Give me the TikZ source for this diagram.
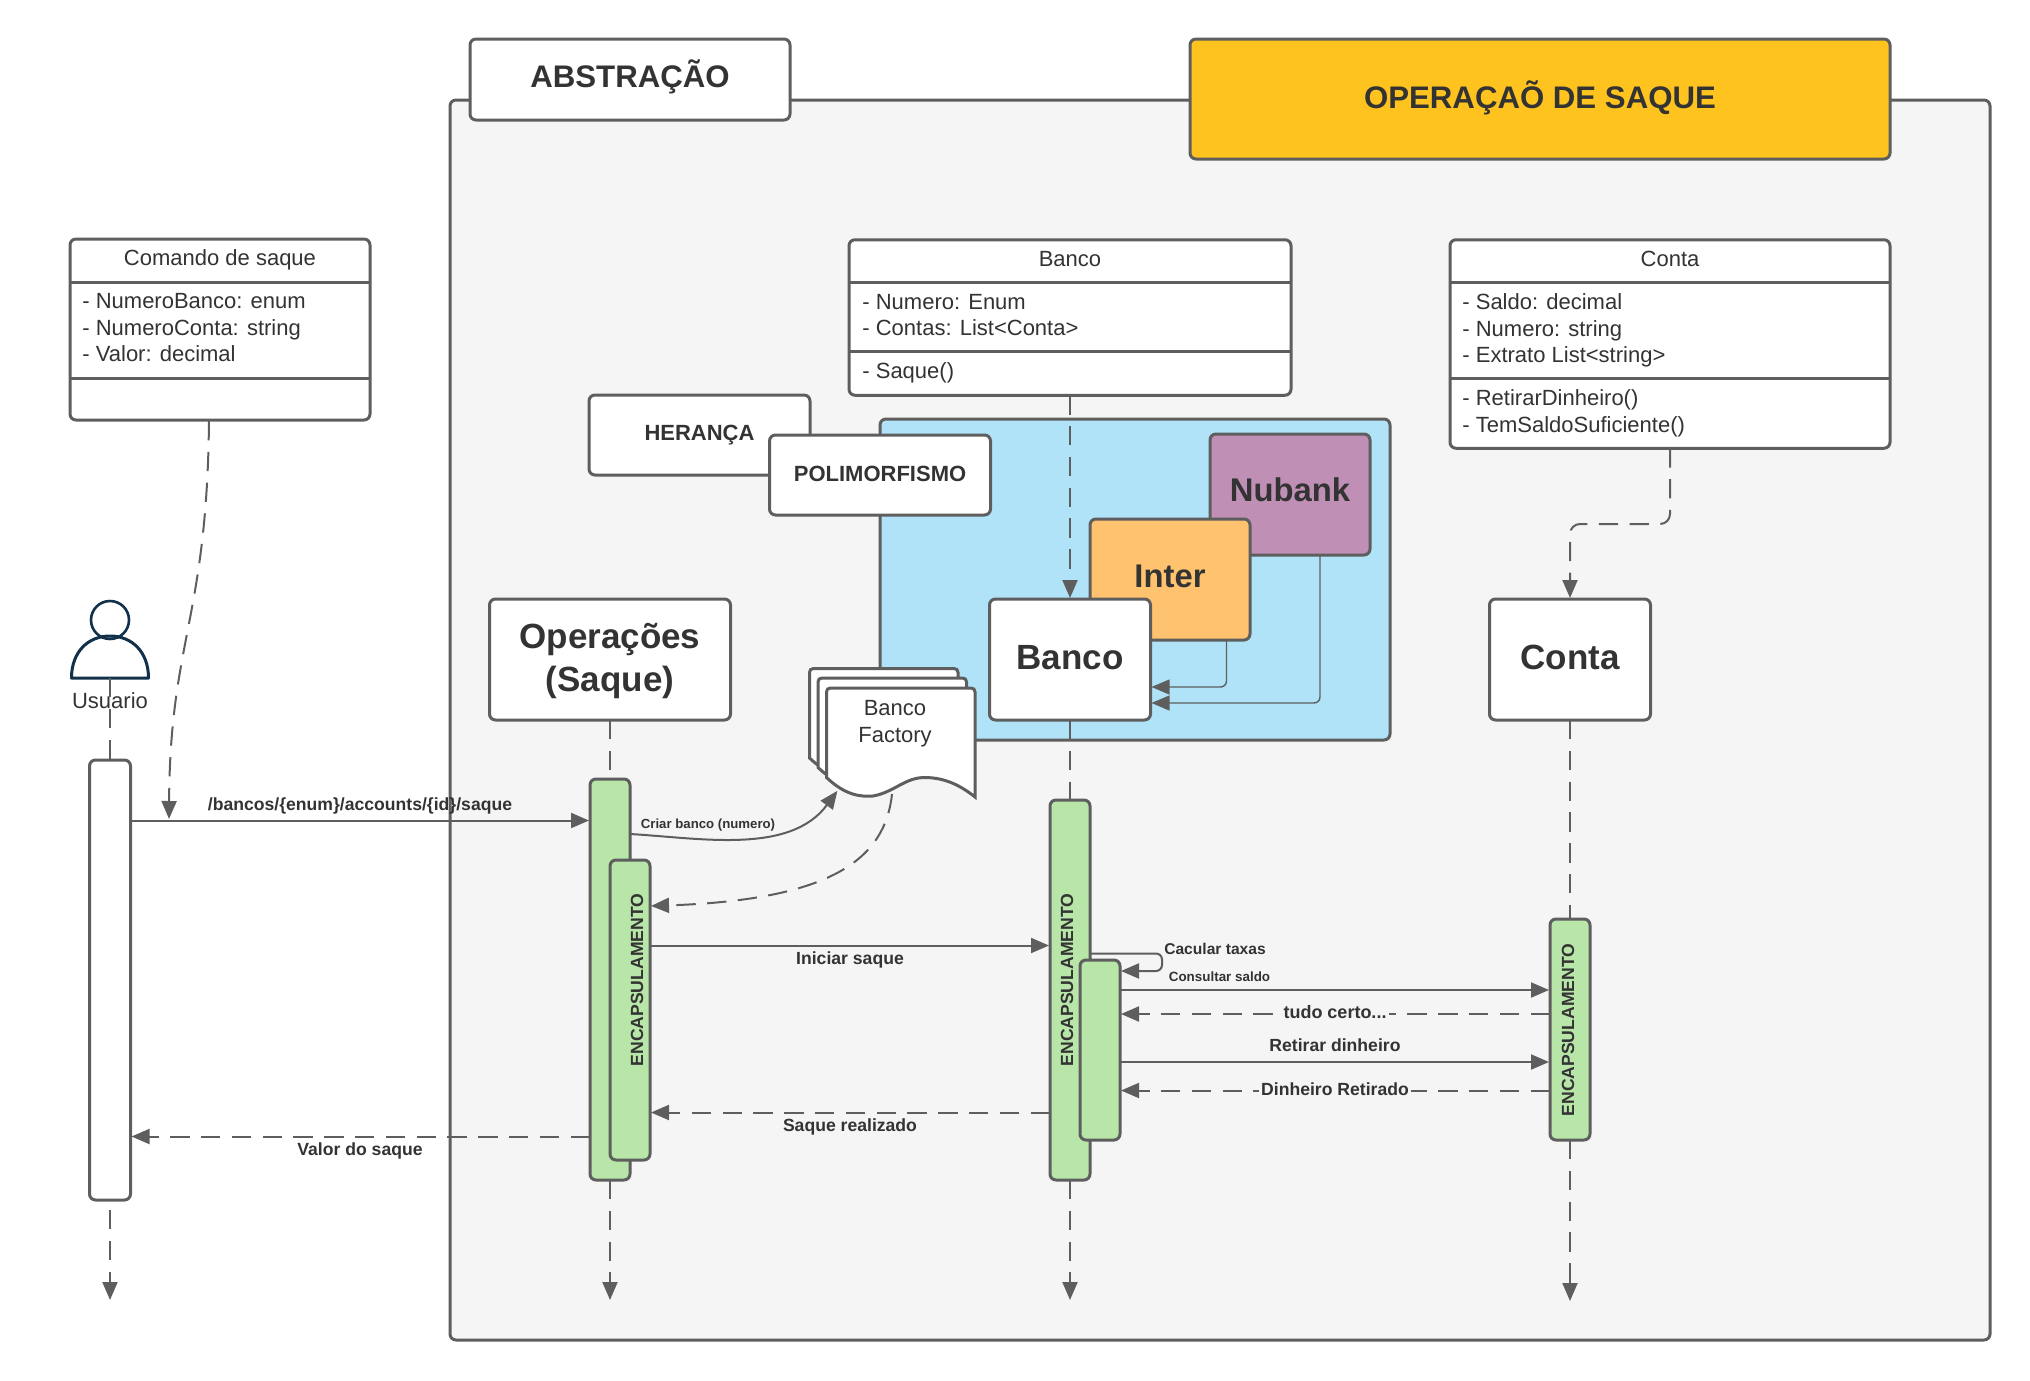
\documentclass[tikz,border=0pt]{standalone}
\usepackage{fontspec}
\setmainfont{Liberation Sans}
\usetikzlibrary{arrows.meta}
\definecolor{linegray}{HTML}{5E5E5E}
\definecolor{txtgray}{HTML}{333333}
\definecolor{framegray}{HTML}{F5F5F5}
\definecolor{actgreen}{HTML}{B8E6A8}
\definecolor{polyblue}{HTML}{B0E3F8}
\definecolor{nubankpurple}{HTML}{BF8FB5}
\definecolor{interorange}{HTML}{FFC26E}
\definecolor{opyellow}{HTML}{FFC31F}
\definecolor{actornavy}{HTML}{12304A}
\tikzset{
  boxwh/.style 2 args={minimum width=#1*0.5pt, minimum height=#2*0.5pt},
  box/.style={draw=linegray, line width=1.5pt, fill=white, rounded corners=3pt, inner sep=0pt, outer sep=0pt, text=txtgray, align=center},
  act/.style={box, fill=actgreen},
  bigtext/.style={font=\fontsize{17.5}{21.5}\selectfont\bfseries},
  tagtext/.style={font=\fontsize{11}{13}\selectfont\bfseries},
  plaintext/.style={text=txtgray, inner sep=0pt, align=left, font=\fontsize{11}{13.25}\selectfont},
  msg/.style={text=txtgray, inner sep=1pt, font=\fontsize{8.8}{10}\selectfont\bfseries},
  enc/.style={msg, rotate=90, inner sep=0pt},
  conn/.style={draw=linegray, line width=1pt, -{Triangle[length=9pt,width=7.5pt]}, shorten >=0.5pt},
  thinconn/.style={conn, line width=0.7pt},
  dashconn/.style={conn, dash pattern=on 9.7pt off 5.7pt},
  lifeline/.style={draw=linegray, line width=1pt, dash pattern=on 9.7pt off 5.7pt},
  sepline/.style={draw=linegray, line width=1.5pt}
}
\begin{document}
\begin{tikzpicture}[x=0.5pt,y=-0.5pt]
  \useasboundingbox (0,0) rectangle (2030,1381);
  % frame and titles
  \node[box, fill=framegray, boxwh={1540}{1240}] (frame) at (1220,720) {};
  \node[box, boxwh={320}{81}, font=\fontsize{15.6}{18}\selectfont\bfseries] (abstracao) at (630,79.5) {\rule[-5.9pt]{0pt}{0pt}ABSTRAÇÃO};
  \node[box, fill=opyellow, boxwh={700}{120}, font=\fontsize{15.6}{18}\selectfont\bfseries] (operacao) at (1540,99) {\rule[-4.6pt]{0pt}{0pt}OPERAÇAÕ DE SAQUE};

  % command class
  \node[box, boxwh={300}{181}] (comando) at (220,329.5) {};
  \draw[sepline] (comando.west |- 0,282.5) -- (comando.east |- 0,282.5);
  \draw[sepline] (comando.west |- 0,378) -- (comando.east |- 0,378);
  \node[plaintext] (comandotitle) at (220,259.5) {Comando de saque};
  \node[plaintext, anchor=west] (comandoattr) at (82,328) {- NumeroBanco: enum\\- NumeroConta: string\\- Valor: decimal};

  % bank class
  \node[box, boxwh={442}{155.5}] (bancoclass) at (1070,317.5) {};
  \draw[sepline] (bancoclass.west |- 0,282) -- (bancoclass.east |- 0,282);
  \draw[sepline] (bancoclass.west |- 0,351) -- (bancoclass.east |- 0,351);
  \node[plaintext] (bancotitle) at (1070,259.5) {Banco};
  \node[plaintext, anchor=west] (bancoattr) at (862,315) {- Numero: Enum\\- Contas: List<Conta>};
  \node[plaintext, anchor=west] (bancometh) at (862,373) {- Saque()};

  % account class
  \node[box, boxwh={440}{208.5}] (contaclass) at (1670,344) {};
  \draw[sepline] (contaclass.west |- 0,282) -- (contaclass.east |- 0,282);
  \draw[sepline] (contaclass.west |- 0,378) -- (contaclass.east |- 0,378);
  \node[plaintext] (contatitle) at (1670,259) {Conta};
  \node[plaintext, anchor=west] (contaattr) at (1462,330.5) {- Saldo: decimal\\- Numero: string\\- Extrato List<string>};
  \node[plaintext, anchor=west] (contameth) at (1462,413.5) {- RetirarDinheiro()\\- TemSaldoSuficiente()};

  % polymorphism area
  \node[box, fill=polyblue, boxwh={510}{321}] (polyarea) at (1135,579.5) {};
  \node[box, boxwh={221}{80}, tagtext] (heranca) at (699.5,435) {\raisebox{1pt}{HERANÇA}};
  \node[box, boxwh={221}{80}, tagtext] (polimorfismo) at (880,475) {\raisebox{1pt}{POLIMORFISMO}};
  \node[box, fill=nubankpurple, boxwh={160}{121}, font=\fontsize{16.4}{20}\selectfont\bfseries] (nubank) at (1290,494.5) {\raisebox{4.4pt}{Nubank}};
  \node[box, fill=interorange, boxwh={160}{121}, font=\fontsize{16.4}{20}\selectfont\bfseries] (inter) at (1170,579.5) {\raisebox{3.2pt}{Inter}};
  \node[box, boxwh={161}{121}, bigtext] (bancobox) at (1070,659.5) {\raisebox{2.2pt}{Banco}};
  \coordinate (interrow) at (1226.5,687);
  \coordinate (nubankrow) at (1320,703);
  \draw[thinconn, rounded corners=3pt] (interrow |- inter.south) |- (bancobox.east |- interrow);
  \draw[thinconn, rounded corners=3pt] (nubankrow |- nubank.south) |- (bancobox.east |- nubankrow);
  \draw[dashconn] (bancoclass.south) -- (bancobox.north);

  % heads of the lifelines
  \node[box, boxwh={241}{121}, bigtext] (opsbox) at (610,659.5) {\rule{0pt}{14.6pt}Operações\\(Saque)};
  \node[box, boxwh={161}{121}, bigtext] (contabox) at (1570,659.5) {\raisebox{2.2pt}{Conta}};
  \coordinate (contaturn) at (1570,524);
  \draw[dashconn, rounded corners=5pt] (contaclass.south) |- (contaturn) -- (contabox.north);

  % actor
  \node[circle, draw=actornavy, line width=1.3pt, fill=white, minimum size=19pt, inner sep=0pt] (actorhead) at (110,620) {};
  \coordinate (actorfoot) at (110,678);
  \draw[draw=actornavy, line width=1.5pt, line join=round] (71.5,678) .. controls (71.5,652) and (88,636) .. (110,636) .. controls (132,636) and (148.5,652) .. (148.5,678) -- cycle;
  \node[plaintext] (usuario) at (110,700.5) {Usuario};

  % activations
  \node[box, boxwh={41}{440}] (useract) at (110,980) {};
  \node[act, boxwh={40}{401}] (opsact) at (610,979.5) {};
  \node[act, boxwh={40}{300}] (opsinner) at (630,1010) {};
  \node[act, boxwh={40}{380}] (bancoact) at (1070,990) {};
  \node[act, boxwh={40}{180}] (bancoinner) at (1100,1050) {};
  \node[act, boxwh={40}{221}] (contaact) at (1570,1029.5) {};
  \node[enc] (encops) at (637,980) {ENCAPSULAMENTO};
  \node[enc] (encbanco) at (1067,980) {ENCAPSULAMENTO};
  \node[enc] (encconta) at (1568,1030) {ENCAPSULAMENTO};

  % lifelines
  \coordinate (userend) at (110,1301);
  \coordinate (opsend) at (610,1301);
  \coordinate (bancoend) at (1070,1301);
  \coordinate (contaend) at (1570,1302);
  \draw[lifeline] (actorfoot) -- (useract.north);
  \draw[lifeline] (opsbox.south) -- (opsact.north);
  \draw[lifeline] (bancobox.south) -- (bancoact.north);
  \draw[lifeline] (contabox.south) -- (contaact.north);
  \draw[dashconn] (useract.south) ++(0,10) -- (userend);
  \draw[dashconn] (opsact.south) -- (opsend);
  \draw[dashconn] (bancoact.south) -- (bancoend);
  \draw[dashconn] (contaact.south) -- (contaend);

  % bank factory
  \foreach \dx/\dy in {-17/-19.5,-8.5/-10,0/0}{
    \begin{scope}[shift={(\dx,\dy)}]
      \filldraw[draw=linegray, line width=1.5pt, fill=white] (826.5,777.5) .. controls (845,795) and (860,797) .. (873,796)
        .. controls (895,792) and (905,777) .. (926,777.5) .. controls (945,778) and (960,785) .. (975,797)
        -- (975,692) .. controls (975,689.5) and (973.5,688) .. (971,688) -- (830.5,688) .. controls (828,688) and (826.5,689.5) .. (826.5,692) -- cycle;
    \end{scope}
  }
  \node[plaintext, align=center, font=\fontsize{11}{13.5}\selectfont] (factory) at (895,724) {Banco\\Factory};
  \coordinate (factoryin) at (838,790);
  \coordinate (factoryout) at (892,794);

  % messages
  \coordinate (cmdout) at (209,421);
  \coordinate (cmdin) at (169,820);
  \draw[dashconn] (cmdout) .. controls (207,620) and (170,640) .. (cmdin);
  \coordinate (rowsaque) at (0,820.5);
  \draw[conn] (useract.east |- rowsaque) -- (opsact.west |- rowsaque);
  \node[msg] (saquelabel) at (360,805.5) {/bancos/\{enum\}/accounts/\{id\}/saque};

  \coordinate (criarout) at (630,834);
  \draw[conn] (criarout) .. controls (700,838) and (790,855) .. (factoryin);
  \node[msg, font=\fontsize{6.6}{8}\selectfont\bfseries] (criarlabel) at (708,825.5) {Criar banco (numero)};
  \coordinate (rowfactory) at (0,906);
  \draw[dashconn] (factoryout) .. controls (885,860) and (830,900) .. (opsinner.east |- rowfactory);

  \coordinate (rowiniciar) at (0,945.5);
  \draw[conn] (opsinner.east |- rowiniciar) -- (bancoact.west |- rowiniciar);
  \node[msg] (iniciarlabel) at (850,959.5) {Iniciar saque};

  \coordinate (rowrealizado) at (0,1112.5);
  \draw[dashconn] (bancoact.west |- rowrealizado) -- (opsinner.east |- rowrealizado);
  \node[msg] (realizadolabel) at (850,1126.5) {Saque realizado};

  \coordinate (rowvalor) at (0,1136.5);
  \draw[dashconn] (opsact.west |- rowvalor) -- (useract.east |- rowvalor);
  \node[msg] (valorlabel) at (360,1151) {Valor do saque};

  \coordinate (calout) at (0,953.5);
  \coordinate (calback) at (1162,971);
  \draw[conn, rounded corners=3pt] (bancoact.east |- calout) -| (calback) -- (bancoinner.east |- calback);
  \node[msg, font=\fontsize{7.8}{9}\selectfont\bfseries] (calclabel) at (1215,948.5) {Cacular taxas};

  \coordinate (rowconsulta) at (0,990);
  \draw[conn] (bancoinner.east |- rowconsulta) -- (contaact.west |- rowconsulta);
  \node[msg, font=\fontsize{6.7}{8}\selectfont\bfseries] (consultalabel) at (1219.5,976.5) {Consultar saldo};

  \coordinate (rowcerto) at (0,1014);
  \draw[dashconn] (contaact.west |- rowcerto) -- (bancoinner.east |- rowcerto);
  \node[msg, fill=framegray, font=\fontsize{9}{10}\selectfont\bfseries] (certolabel) at (1335,1012) {tudo certo...};

  \coordinate (rowretirar) at (0,1062);
  \draw[conn] (bancoinner.east |- rowretirar) -- (contaact.west |- rowretirar);
  \node[msg] (retirarlabel) at (1335,1045.5) {Retirar dinheiro};

  \coordinate (rowretirado) at (0,1090.5);
  \draw[dashconn] (contaact.west |- rowretirado) -- (bancoinner.east |- rowretirado);
  \node[msg, fill=framegray] (retiradolabel) at (1335,1089) {Dinheiro Retirado};
\end{tikzpicture}
\end{document}
